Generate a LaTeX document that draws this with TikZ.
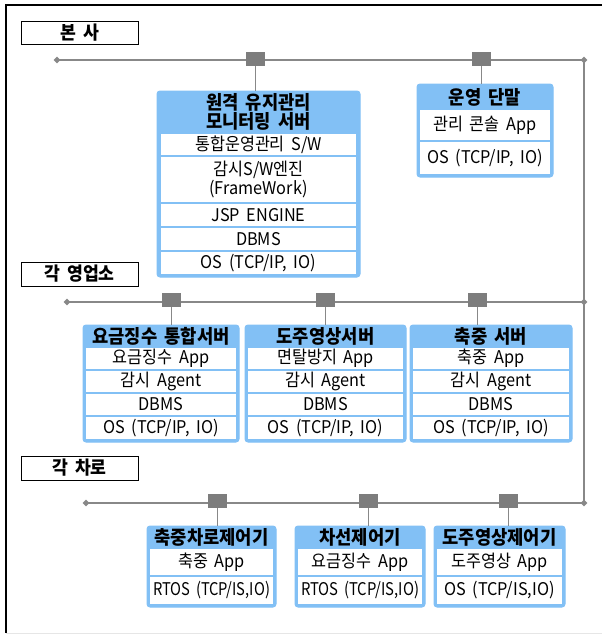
\documentclass[tikz,border=0pt]{standalone}
\usepackage{fontspec}
\setmainfont{Noto Sans CJK KR}[WordSpace=1.8, FakeStretch=0.93]
\usepackage{graphicx}
\usetikzlibrary{shapes.geometric}
\definecolor{hdrblue}{RGB}{130,192,245}
\definecolor{busgray}{RGB}{136,136,136}
\definecolor{sqgray}{RGB}{125,125,125}
\definecolor{framegray}{RGB}{230,230,230}
\newsavebox\fitbox
\newdimen\fitw
\newcommand\fitto[2]{\sbox\fitbox{#2}\fitw=#1\relax\ifdim\wd\fitbox>\fitw\pgfmathsetmacro\fitf{\the\fitw/\the\wd\fitbox}\scalebox{\fitf}[1]{\usebox\fitbox}\else\usebox\fitbox\fi}
\tikzset{
  outerbox/.style={fill=hdrblue, draw=hdrblue, rounded corners=3pt, inner sep=0pt, line width=1pt},
  rowsty/.style={fill=white, draw=none, inner sep=0pt, align=center, font=\fontsize{17.5}{19}\selectfont},
  hdr/.style={font=\bfseries\fontsize{19}{19.5}\selectfont, align=center, inner sep=0pt},
  lbl/.style={draw=black, line width=1pt, fill=white, inner sep=0pt, font=\bfseries\fontsize{18.5}{19}\selectfont},
  bus/.style={draw=busgray, line width=2.3pt},
  sq/.style={fill=sqgray, minimum width=19pt, minimum height=14pt, inner sep=0pt},
  tap/.style={draw=busgray, line width=1pt},
  dia/.style={diamond, fill=busgray, minimum size=7pt, inner sep=0pt}
}
% style, name, x1, y1, x2, y2, text
\newcommand\place[7]{\pgfmathsetmacro\rcx{(#3+#5)/2}\pgfmathsetmacro\rcy{(#4+#6)/2}\pgfmathsetmacro\rw{#5-#3}\pgfmathsetmacro\rh{#6-#4}%
\node[#1, minimum width=\rw pt, minimum height=\rh pt] (#2) at (\rcx,\rcy) {#7};}
\newcommand\rowbox[6]{\pgfmathsetmacro\rcx{(#2+#4)/2}\pgfmathsetmacro\rcy{(#3+#5)/2}\pgfmathsetmacro\rw{#4-#2}\pgfmathsetmacro\rh{#5-#3}%
\node[rowsty, minimum width=\rw pt, minimum height=\rh pt] (#1) at (\rcx,\rcy) {\fitto{\dimexpr\rw pt-6pt\relax}{#6}};}
\begin{document}
\begin{tikzpicture}[x=1pt,y=-1pt]
\useasboundingbox (0,0) rectangle (602,635);
% frame
\draw[black, line width=1.2pt] (602,5) -- (6,5) -- (6,633);
\draw[framegray, line width=1pt] (6,633) -- (602,633);
% labels
\place{lbl}{L1}{21}{21}{138}{44}{본 사}
\place{lbl}{L2}{21}{262}{138}{286}{각 영업소}
\place{lbl}{L3}{21}{456}{138}{480}{각 차로}
% buses
\node[dia] (d1l) at (57,60) {};
\node[dia] (d1r) at (584,60) {};
\node[dia] (d2l) at (67,302) {};
\node[dia] (d2r) at (584,302) {};
\node[dia] (d3l) at (86,503) {};
\node[dia] (d3r) at (584,503) {};
\draw[bus] (d1l.center) -- (d1r.center) -- (d3r.center);
\draw[bus] (d2l.center) -- (d2r.center);
\draw[bus] (d3l.center) -- (d3r.center);
% --- HQ boxes
\place{outerbox}{srv1}{157}{91}{360}{277}{}
\node[hdr] (srv1h) at (258.5,112) {원격 유지관리\\모니터링 서버};
\rowbox{srv1a}{161}{134}{356}{155}{통합운영관리 S/W}
\place{rowsty}{srv1b}{161}{157}{356}{202}{감시S/W엔진\\(FrameWork)}
\rowbox{srv1c}{161}{204}{356}{226}{JSP ENGINE}
\rowbox{srv1d}{161}{228}{356}{250}{DBMS}
\rowbox{srv1e}{161}{252}{356}{274}{OS (TCP/IP, IO)}

\place{outerbox}{term}{417}{84}{553}{177}{}
\node[hdr] (termh) at (485,97) {운영 단말};
\rowbox{terma}{420}{110}{550}{140}{관리 콘솔 App}
\rowbox{termb}{420}{142}{550}{174}{OS (TCP/IP, IO)}

% --- branch boxes
\place{outerbox}{bA}{83}{325}{239}{442}{}
\node[hdr] (bAh) at (161,336) {요금징수 통합서버};
\rowbox{bA1}{86}{348}{236}{369}{요금징수 App}
\rowbox{bA2}{86}{371}{236}{392}{감시 Agent}
\rowbox{bA3}{86}{394}{236}{415}{DBMS}
\rowbox{bA4}{86}{417}{236}{439}{OS (TCP/IP, IO)}

\place{outerbox}{bB}{245}{325}{406}{442}{}
\node[hdr] (bBh) at (325.5,336) {도주영상서버};
\rowbox{bB1}{248}{348}{403}{369}{면탈방지 App}
\rowbox{bB2}{248}{371}{403}{392}{감시 Agent}
\rowbox{bB3}{248}{394}{403}{415}{DBMS}
\rowbox{bB4}{248}{417}{403}{439}{OS (TCP/IP, IO)}

\place{outerbox}{bC}{410}{325}{572}{442}{}
\node[hdr] (bCh) at (491,336) {축중 서버};
\rowbox{bC1}{413}{348}{569}{369}{축중 App}
\rowbox{bC2}{413}{371}{569}{392}{감시 Agent}
\rowbox{bC3}{413}{394}{569}{415}{DBMS}
\rowbox{bC4}{413}{417}{569}{439}{OS (TCP/IP, IO)}

% --- lane boxes
\place{outerbox}{lD}{147}{526}{276}{607}{}
\node[hdr] (lDh) at (211.5,537) {축중차로제어기};
\rowbox{lD1}{150}{549}{273}{575}{축중 App}
\rowbox{lD2}{150}{577}{273}{604}{RTOS (TCP/IS,IO)}

\place{outerbox}{lE}{295}{526}{425}{607}{}
\node[hdr] (lEh) at (360,537) {차선제어기};
\rowbox{lE1}{298}{549}{422}{575}{요금징수 App}
\rowbox{lE2}{298}{577}{422}{604}{RTOS (TCP/IS,IO)}

\place{outerbox}{lF}{434}{526}{565}{607}{}
\node[hdr] (lFh) at (499.5,537) {도주영상제어기};
\rowbox{lF1}{437}{549}{562}{575}{도주영상 App}
\rowbox{lF2}{437}{577}{562}{604}{OS (TCP/IS,IO)}

% --- taps
\node[sq] (s11) at (255,59) {};
\node[sq] (s12) at (481,59) {};
\node[sq] (s21) at (171,300) {};
\node[sq] (s22) at (325,300) {};
\node[sq] (s23) at (477,300) {};
\node[sq] (s31) at (217,501) {};
\node[sq] (s32) at (368,501) {};
\node[sq] (s33) at (508,501) {};
\draw[tap] (s11.south) -- (s11.south |- srv1.north);
\draw[tap] (s12.south) -- (s12.south |- term.north);
\draw[tap] (s21.south) -- (s21.south |- bA.north);
\draw[tap] (s22.south) -- (s22.south |- bB.north);
\draw[tap] (s23.south) -- (s23.south |- bC.north);
\draw[tap] (s31.south) -- (s31.south |- lD.north);
\draw[tap] (s32.south) -- (s32.south |- lE.north);
\draw[tap] (s33.south) -- (s33.south |- lF.north);
\end{tikzpicture}
\end{document}
